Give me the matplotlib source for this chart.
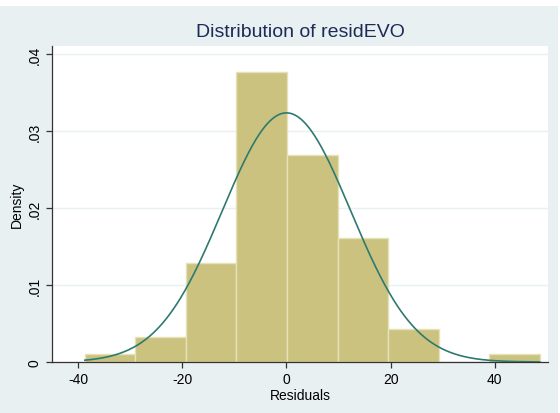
import numpy as np
import matplotlib.pyplot as plt
from matplotlib.patches import Rectangle

plt.rcParams['font.family'] = ['Liberation Sans', 'DejaVu Sans']

# histogram of residuals (density scale)
bin_edges = [-38.7, -29.0, -19.3, -9.6, 0.1, 9.8, 19.5, 29.2, 38.9, 48.6]
densities = [0.0010, 0.0032, 0.0129, 0.0377, 0.0269, 0.0161, 0.0043, 0.0, 0.0010]

# normal overlay parameters
resid_mean = 0.0
resid_sd = 12.33

bg = "#e9f0f2"
bar_fill = "#cbc27f"
bar_edge = "#e6e2b8"
line_col = "#2f7a70"
navy = "#1c2b58"

fig = plt.figure(figsize=(5.6, 4.14), dpi=100, facecolor="white")
fig.patches.append(Rectangle((0, 0), 558 / 560, 1 - 7 / 414, transform=fig.transFigure,
                             facecolor=bg, edgecolor="none", zorder=-10))

ax = fig.add_axes([52 / 560, 51 / 414, 496 / 560, 316 / 414])
ax.set_facecolor("white")

widths = np.diff(bin_edges)
ax.bar(bin_edges[:-1], densities, width=widths, align="edge",
       color=bar_fill, edgecolor=bar_edge, linewidth=1.0, zorder=2)

xs = np.linspace(bin_edges[0], bin_edges[-1], 400)
pdf = np.exp(-0.5 * ((xs - resid_mean) / resid_sd) ** 2) / (resid_sd * np.sqrt(2 * np.pi))
ax.plot(xs, pdf, color=line_col, linewidth=1.2, zorder=3)

ax.set_xlim(-45, 50.2)
ax.set_ylim(0, 0.04104)
ax.set_xticks([-40, -20, 0, 20, 40])
ax.set_xticklabels(["-40", "-20", "0", "20", "40"])
ax.set_yticks([0, 0.01, 0.02, 0.03, 0.04])
ax.set_yticklabels(["0", ".01", ".02", ".03", ".04"], rotation=90, va="center")

ax.grid(axis="y", color=bg, linewidth=1.0, zorder=1)
ax.set_axisbelow(True)
for side in ["top", "right"]:
    ax.spines[side].set_visible(False)
for side in ["left", "bottom"]:
    ax.spines[side].set_color("#333333")
    ax.spines[side].set_linewidth(0.9)
ax.tick_params(axis="both", colors="#333333", labelcolor="black", labelsize=10,
               length=4, width=0.9, direction="out")

ax.set_xlabel("Residuals", fontsize=10, labelpad=1)
ax.set_ylabel("Density", fontsize=10, labelpad=3)
ax.set_title("Distribution of residEVO", fontsize=14, color=navy, pad=7)

fig.savefig("out.png", dpi=100, facecolor=fig.get_facecolor())
